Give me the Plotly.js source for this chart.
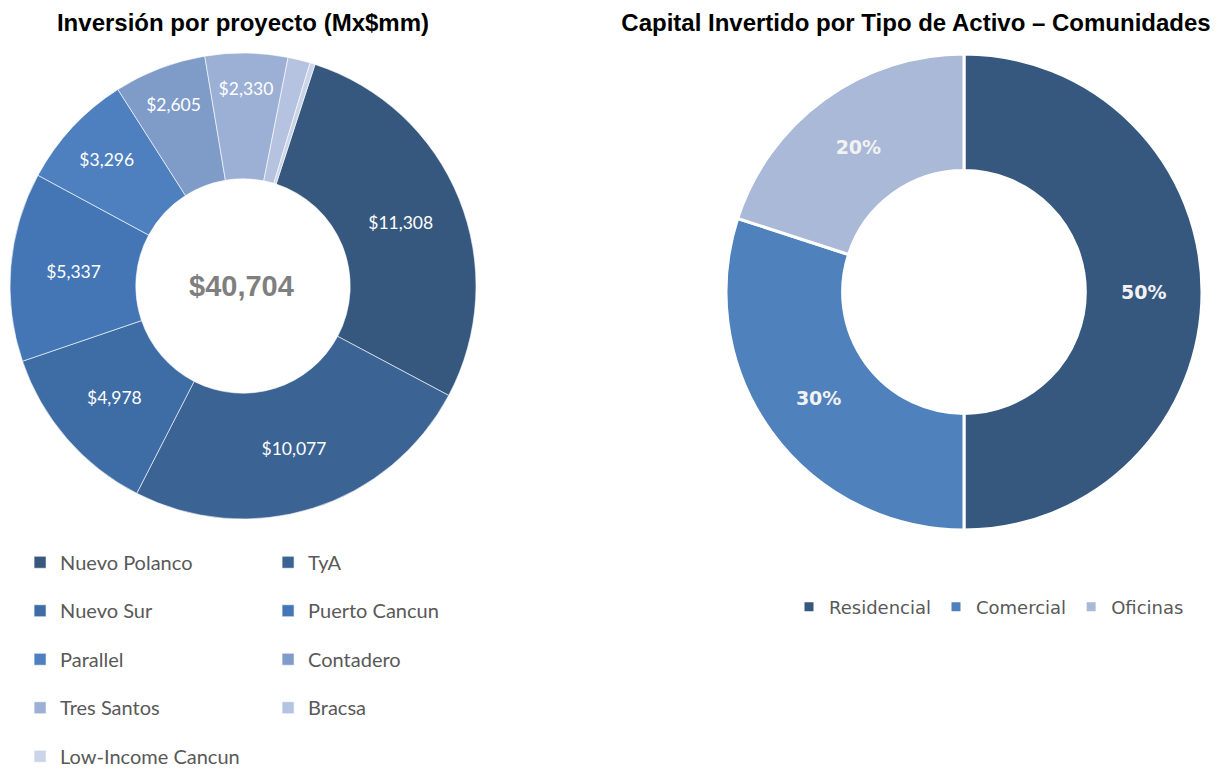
<!DOCTYPE html>
<html><head><meta charset="utf-8">
<script src="https://cdn.plot.ly/plotly-3.0.1.min.js"></script>
<style>
html,body{margin:0;padding:0;background:#fff;}
#wrap{position:relative;width:1217px;height:769px;overflow:hidden;}
#left{position:absolute;left:0;top:0;width:608px;height:769px;}
#right{position:absolute;left:608px;top:0;width:609px;height:769px;}
</style></head>
<body><div id="wrap"><div id="left"></div><div id="right"></div></div>
<script>
// Left chart: Inversión por proyecto (Mx$mm)
const projects = ["Nuevo Polanco","TyA","Nuevo Sur","Puerto Cancun","Parallel","Contadero","Tres Santos","Bracsa","Low-Income Cancun"];
const investment = [11308, 10077, 4978, 5337, 3296, 2605, 2330, 630, 143];
const projectColors = ["#36587F","#3B6495","#3E6CA4","#4476B6","#4E80BF","#7F9BC8","#9CB0D5","#B6C3E0","#CBD4E8"];
const totalLabel = "$40,704";

// Right chart: Capital Invertido por Tipo de Activo – Comunidades
const assetTypes = ["Residencial","Comercial","Oficinas"];
const assetShare = [50, 30, 20];
const assetColors = ["#36587F","#4F81BD","#AAB9D7"];

const W = 608, H = 769;
const fmt = v => "$" + v.toLocaleString("en-US");
const leftText = investment.map(v => v >= 1000 ? fmt(v) : "");
const legendLabels = projects.map(p => '<span style="font-size:20px;baseline-shift:6.5px">' + p + '</span>');

const leftTrace = {
  type: "pie",
  labels: legendLabels,
  values: investment,
  text: leftText,
  textinfo: "text",
  textposition: "inside",
  insidetextorientation: "horizontal",
  textfont: {family: "Lato, 'Open Sans', sans-serif", size: 17.5, color: "#FFFFFF"},
  hole: 0.46,
  sort: false,
  direction: "clockwise",
  rotation: 18,
  marker: {colors: projectColors, line: {color: "rgba(255,255,255,0.6)", width: 1}},
  domain: {x: [10/W, 476/W], y: [1 - 519/H, 1 - 53/H]},
  hoverinfo: "label+value"
};

const leftLayout = {
  width: W, height: H,
  margin: {l: 0, r: 0, t: 0, b: 0, autoexpand: false},
  paper_bgcolor: "#FFFFFF",
  title: {text: "<b>Inversión por proyecto (Mx$mm)</b>", x: 243/W, xanchor: "center", xref: "paper",
          y: 1 - 23/H, yanchor: "middle", yref: "container",
          font: {family: "'Liberation Sans', Arial, sans-serif", size: 24, color: "#000000"}},
  showlegend: true,
  legend: {orientation: "h", x: 0.033, xanchor: "left", y: 1 - 533/H, yanchor: "top",
           entrywidth: 203, entrywidthmode: "pixels", traceorder: "normal",
           font: {family: "Lato, 'Open Sans', sans-serif", size: 35, color: "#595959"},
           bgcolor: "rgba(0,0,0,0)"},
  annotations: [{text: "<b>" + totalLabel + "</b>", x: 241/W, y: 1 - 286/H, xref: "paper", yref: "paper",
                 showarrow: false, font: {family: "'Liberation Sans', Arial, sans-serif", size: 29, color: "#7F7F7F"}}]
};

const W2 = 609;
const rightTrace = {
  type: "pie",
  labels: assetTypes,
  values: assetShare,
  texttemplate: "%{percent:.0%}",
  textposition: "inside",
  insidetextorientation: "horizontal",
  textfont: {family: "'DejaVu Sans', Verdana, sans-serif", size: 19, color: "#F2F2F2", weight: "bold"},
  hole: 0.51,
  sort: false,
  direction: "clockwise",
  rotation: 0,
  marker: {colors: assetColors, line: {color: "#FFFFFF", width: 3}},
  domain: {x: [118/W2, 594/W2], y: [1 - 530/H, 1 - 54/H]},
  hoverinfo: "label+percent"
};

const rightLayout = {
  width: W2, height: H,
  margin: {l: 0, r: 0, t: 0, b: 0, autoexpand: false},
  paper_bgcolor: "#FFFFFF",
  title: {text: "<b>Capital Invertido por Tipo de Activo – Comunidades</b>", x: 308/W2, xanchor: "center", xref: "paper",
          y: 1 - 23/H, yanchor: "middle", yref: "container",
          font: {family: "'Liberation Sans', Arial, sans-serif", size: 24, color: "#000000"}},
  showlegend: true,
  legend: {orientation: "h", x: 381/W2, xanchor: "center", y: 1 - 607/H, yanchor: "middle",
           font: {family: "'DejaVu Sans', Verdana, sans-serif", size: 18, color: "#595959"},
           bgcolor: "rgba(0,0,0,0)"}
};

const cfg = {displayModeBar: false, staticPlot: true};
Plotly.newPlot("left", [leftTrace], leftLayout, cfg);
Plotly.newPlot("right", [rightTrace], rightLayout, cfg);
</script></body></html>
